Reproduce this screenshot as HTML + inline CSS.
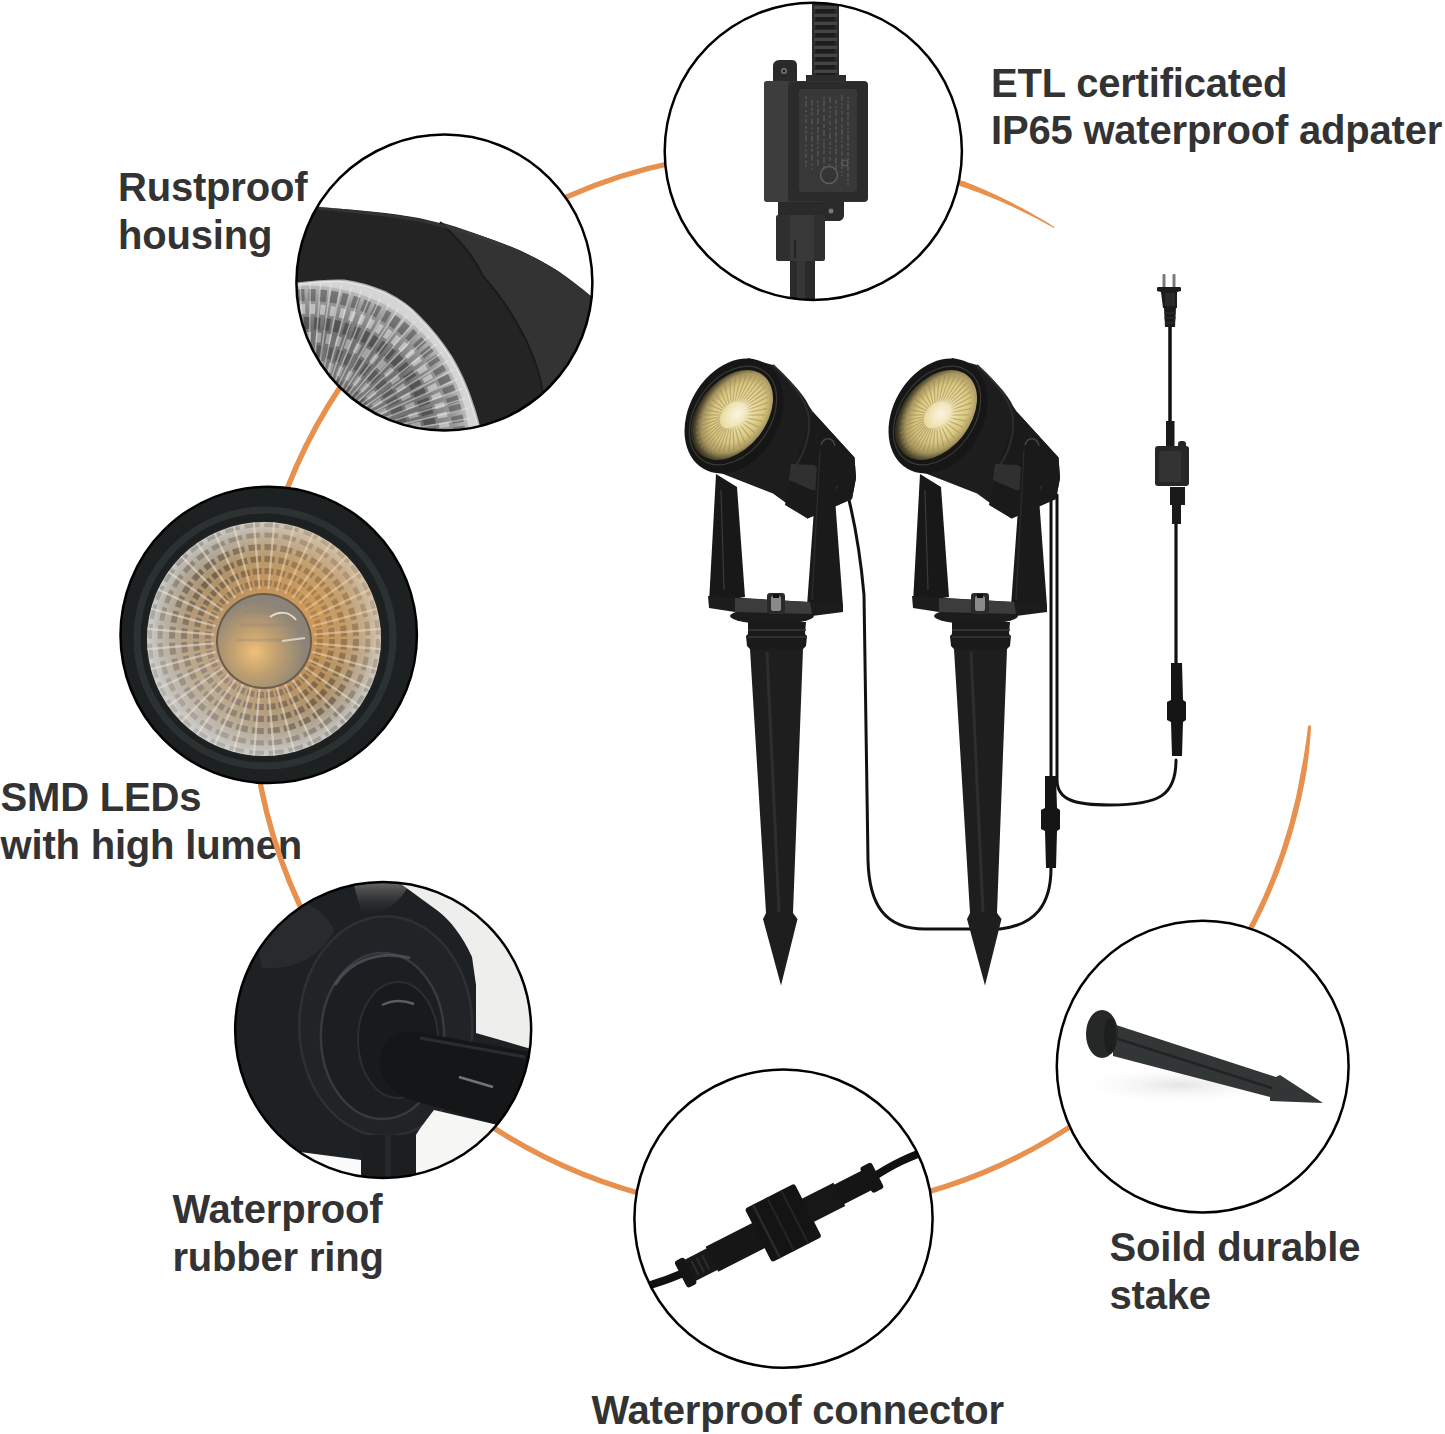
<!DOCTYPE html>
<html><head><meta charset="utf-8">
<style>
html,body{margin:0;padding:0;background:#fff;width:1445px;height:1434px;overflow:hidden}
svg{display:block}
text{font-family:"Liberation Sans",sans-serif;font-weight:bold;font-size:40px;fill:#333;letter-spacing:-0.2px}
</style></head><body>
<svg width="1445" height="1434" viewBox="0 0 1445 1434">
<defs>
<clipPath id="c1"><circle cx="813.3" cy="151.3" r="148.6"/></clipPath>
<clipPath id="c2"><circle cx="444.4" cy="282.6" r="148"/></clipPath>
<clipPath id="c3"><circle cx="268.7" cy="634.9" r="148.2"/></clipPath>
<clipPath id="c4"><circle cx="383.15" cy="1030" r="148"/></clipPath>
<clipPath id="c5"><circle cx="783.5" cy="1218.6" r="149.1"/></clipPath>
<clipPath id="c6"><circle cx="1202.7" cy="1066.6" r="145.9"/></clipPath>
</defs>
<rect width="1445" height="1434" fill="#fff"/>
<!-- TEXT -->
<g id="labels">
<text x="991" y="96.7">ETL certificated</text>
<text x="991" y="143.8">IP65 waterproof adpater</text>
<text x="118" y="201.1">Rustproof</text>
<text x="118" y="248.6">housing</text>
<text x="0.6" y="811">SMD LEDs</text>
<text x="0.6" y="858.8">with high lumen</text>
<text x="172.5" y="1223.3">Waterproof</text>
<text x="172.5" y="1270.7">rubber ring</text>
<text x="1109.5" y="1261.2">Soild durable</text>
<text x="1109.5" y="1308.6">stake</text>
<text x="591.5" y="1423.6">Waterproof connector</text>
</g>
<!-- ARC -->
<g id="arc" fill="#E8904E"><path d="M1304.59,766.65 A530.38,530.38 0 1 1 964.06,184.35" fill="none" stroke="#E8904E" stroke-width="5.4"/><path d="M1311.07,727.09 L1310.85,730.60 L1310.61,734.10 L1310.35,737.60 L1310.06,741.11 L1309.75,744.61 L1309.42,748.11 L1309.06,751.60 L1308.68,755.10 L1308.28,758.59 L1307.85,762.08 L1307.41,765.57 L1306.93,769.06 L1301.61,768.18 L1302.25,764.76 L1302.88,761.33 L1303.48,757.90 L1304.06,754.46 L1304.62,751.02 L1305.15,747.57 L1305.66,744.12 L1306.15,740.67 L1306.62,737.21 L1307.06,733.75 L1307.48,730.29 L1307.88,726.82 Z"/><path d="M963.17,180.93 L966.35,182.18 L969.53,183.45 L972.69,184.74 L975.85,186.05 L978.99,187.38 L982.13,188.74 L985.26,190.11 L988.38,191.50 L991.49,192.91 L994.59,194.34 L997.69,195.78 L1000.77,197.25 L1003.84,198.74 L1006.90,200.25 L1009.95,201.78 L1012.99,203.32 L1016.02,204.89 L1019.04,206.47 L1022.05,208.08 L1025.05,209.70 L1028.04,211.34 L1031.02,213.01 L1033.98,214.69 L1036.94,216.38 L1039.88,218.10 L1042.81,219.84 L1045.73,221.59 L1048.64,223.36 L1051.54,225.16 L1054.42,226.96 L1053.80,227.99 L1050.85,226.32 L1047.88,224.67 L1044.90,223.03 L1041.92,221.41 L1038.92,219.82 L1035.92,218.24 L1032.90,216.68 L1029.88,215.15 L1026.84,213.63 L1023.80,212.13 L1020.75,210.65 L1017.68,209.19 L1014.61,207.75 L1011.53,206.34 L1008.45,204.94 L1005.35,203.56 L1002.25,202.20 L999.13,200.86 L996.01,199.54 L992.88,198.24 L989.75,196.97 L986.60,195.71 L983.45,194.47 L980.29,193.25 L977.12,192.06 L973.95,190.88 L970.77,189.73 L967.58,188.59 L964.39,187.48 L961.19,186.38 Z"/><circle cx="1309.47" cy="726.96" r="1.6"/></g>
<!-- PRODUCT -->
<g id="product">
<defs>
<radialGradient id="lensG" cx="0.55" cy="0.45" r="0.55">
<stop offset="0" stop-color="#fff8d8"/>
<stop offset="0.3" stop-color="#f0e2a6"/>
<stop offset="0.6" stop-color="#d8c680"/>
<stop offset="0.8" stop-color="#a89660"/>
<stop offset="0.92" stop-color="#5e5638"/>
<stop offset="1" stop-color="#34301f"/>
</radialGradient>
<g id="spot">
<!-- cylinder body -->
<path d="M718,472 L748,358 L773,365 C790,380 803,393 809,406 L813,412 L854.5,457.6 L856,478 L852,499 L807.5,518.5 L773,493.6 Z" fill="#1d1d1d"/>
<!-- lower body band -->
<path d="M813,412 L854.5,457.6 L856,478 L852,499 L807.5,518.5 L785,505 L792,468 C800,450 808,430 813,412 Z" fill="#1a1a1a"/>
<path d="M773,365 C795,385 812,405 809,430 C806,450 800,462 791,470" fill="none" stroke="#2e2e2e" stroke-width="1.8"/>
<path d="M791,464 L814,465 L838,487 L834,494 L812,490 L789,480 Z" fill="#353535" opacity="0.85"/>
<!-- bezel -->
<ellipse cx="734" cy="416" rx="45" ry="61" transform="rotate(30 734 416)" fill="#161616"/>
<ellipse cx="733" cy="415.5" rx="37.5" ry="54" transform="rotate(35 733 415.5)" fill="none" stroke="#3a3a34" stroke-width="1.2"/>
<ellipse cx="732" cy="415" rx="34" ry="50.5" transform="rotate(38 732 415)" fill="url(#lensG)"/>
<g transform="rotate(38 732 415)"><path d="M742.0,415.0 L761.0,415.0 M741.9,417.3 L760.6,422.0 M741.5,419.6 L759.6,428.9 M740.9,421.8 L757.8,435.4 M740.1,423.8 L755.5,441.5 M739.1,425.6 L752.5,446.8 M737.9,427.1 L749.0,451.4 M736.5,428.4 L745.2,455.1 M735.1,429.3 L741.0,457.8 M733.6,429.8 L736.5,459.4 M732.0,430.0 L732.0,460.0 M730.4,429.8 L727.5,459.4 M728.9,429.3 L723.0,457.8 M727.5,428.4 L718.8,455.1 M726.1,427.1 L715.0,451.4 M724.9,425.6 L711.5,446.8 M723.9,423.8 L708.5,441.5 M723.1,421.8 L706.2,435.4 M722.5,419.6 L704.4,428.9 M722.1,417.3 L703.4,422.0 M722.0,415.0 L703.0,415.0 M722.1,412.7 L703.4,408.0 M722.5,410.4 L704.4,401.1 M723.1,408.2 L706.2,394.6 M723.9,406.2 L708.5,388.5 M724.9,404.4 L711.5,383.2 M726.1,402.9 L715.0,378.6 M727.5,401.6 L718.8,374.9 M728.9,400.7 L723.0,372.2 M730.4,400.2 L727.5,370.6 M732.0,400.0 L732.0,370.0 M733.6,400.2 L736.5,370.6 M735.1,400.7 L741.0,372.2 M736.5,401.6 L745.2,374.9 M737.9,402.9 L749.0,378.6 M739.1,404.4 L752.5,383.2 M740.1,406.2 L755.5,388.5 M740.9,408.2 L757.8,394.6 M741.5,410.4 L759.6,401.1 M741.9,412.7 L760.6,408.0 " stroke="#9c8a55" stroke-width="1.3" opacity="0.55"/></g>
<defs><radialGradient id="cenG"><stop offset="0" stop-color="#fbf5dc"/><stop offset="0.6" stop-color="#f2e6c0"/><stop offset="1" stop-color="#e6d6a0" stop-opacity="0"/></radialGradient></defs><ellipse cx="737" cy="414" rx="14" ry="19" transform="rotate(38 737 414)" fill="url(#cenG)"/>
<!-- bracket arms -->
<path d="M716,474 L737,487 L745,597 L709,603 Z" fill="#181818"/>
<path d="M721,490 L724,590" stroke="#3a3a3a" stroke-width="1.2"/>
<path d="M819,440 C821,432 835,430 838,442 L835.5,505 L843,606 L807,606 Z" fill="#1a1a1a"/><path d="M821,445 C823,437 833,436 835,446" fill="none" stroke="#444" stroke-width="1.5"/><path d="M820,450 L812,600" stroke="#2c2c2c" stroke-width="1.2"/>
<!-- plate -->
<path d="M708,596 L843,604 L843,612 L812,616 L735,612 L709,608 Z" fill="#1c1c1c"/><ellipse cx="772" cy="616" rx="42" ry="8" fill="#1c1c1c"/>
<path d="M735,598 L810,602 L812,614 L735,612 Z" fill="#3c3c3c"/>
<rect x="767" y="593" width="18" height="21" rx="3" fill="#2a2a2a"/>
<rect x="771" y="596" width="10" height="15" rx="2" fill="#8a8a8a"/>
<rect x="773" y="594" width="6" height="4" fill="#111"/>
<!-- stake -->
<path d="M748,622 L806,622 L805,634 L807,636 L806,646 L803,649 L750,649 L747,646 L746,636 L748,634 Z" fill="#1a1a1a"/>
<path d="M748,630 L806,630 M748,637 L806,637" stroke="#3a3a3a" stroke-width="1.5"/>
<path d="M750,649 L803,649 L793,913 L797.5,919 L781,985.5 L763,919 L766,913 Z" fill="#1e1e1e"/>
<path d="M767,652 L779,912" stroke="#2e2e2e" stroke-width="3"/>
</g>
</defs>
<!-- cables -->
<g fill="none" stroke="#111" stroke-linecap="round">
<path d="M847,492 C853,515 860,550 864,595 L868,860 C869,905 885,929 925,929 L1000,929 C1035,925 1051,905 1051,868" stroke-width="3"/>
<path d="M1051,495 L1051,776" stroke-width="3"/>
<path d="M1057,495 L1057,780 C1057,800 1075,805 1110,805 C1160,805 1176,795 1176,760" stroke-width="3"/>
<path d="M1176,663 L1176,523" stroke-width="3.2"/>
<path d="M1170,327 L1170,421" stroke-width="3.5"/>
</g>
<use href="#spot"/>
<use href="#spot" transform="translate(204,0)"/>
<!-- connector on spot2 cable -->
<path d="M1045,776 L1056,776 L1057,808 L1060,810 L1060,829 L1057,831 L1056,868 L1046,868 L1045,831 L1041,829 L1041,810 L1045,808 Z" fill="#151515"/>
<!-- right inline connector -->
<path d="M1171,663 L1182,663 L1183,700 L1186,702 L1186,720 L1183,722 L1182,756 L1172,756 L1171,722 L1167,720 L1167,702 L1171,700 Z" fill="#151515"/>
<!-- plug assembly -->
<rect x="1162.5" y="274" width="3" height="14" rx="1" fill="#7a7a7a"/>
<rect x="1172.5" y="274" width="3" height="14" rx="1" fill="#7a7a7a"/>
<path d="M1157,288 C1157,287 1158,287 1159,287 L1180,287 C1181,287 1181,288 1181,289 L1181,291 L1177,292 L1177,308 L1163,308 L1161,292 L1157,291 Z" fill="#1c1c1c"/>
<rect x="1165" y="293" width="10" height="13" fill="#2a2a2a"/>
<path d="M1164,308 L1176,308 L1175,327 L1165,327 Z" fill="#1a1a1a"/>
<path d="M1164,313 L1176,313 M1164,318 L1176,318 M1165,323 L1175,323" stroke="#333" stroke-width="1"/>
<rect x="1166" y="421" width="8.5" height="26" fill="#1a1a1a"/>
<rect x="1155" y="446" width="34" height="40" rx="3" fill="#262626"/>
<rect x="1159" y="451" width="22" height="31" rx="2" fill="#333"/>
<rect x="1178" y="441" width="8" height="8" rx="3" fill="#262626"/>
<rect x="1170" y="487" width="15" height="18" fill="#1a1a1a"/>
<rect x="1172" y="505" width="9" height="19" fill="#1a1a1a"/>
</g>

<!-- CIRCLES -->
<g id="circ1"><circle cx="813.3" cy="151.3" r="148.6" fill="#fff"/><g clip-path="url(#c1)">
<path d="M812,-5 L839,-5 L839,78 L812,78 Z" fill="#2b2b2b"/>
<g fill="#444"><rect x="814" y="6" width="23" height="3"/><rect x="814" y="14" width="23" height="3"/><rect x="814" y="22" width="23" height="3"/><rect x="814" y="30" width="23" height="3"/><rect x="814" y="38" width="23" height="3"/><rect x="814" y="46" width="23" height="3"/><rect x="814" y="54" width="23" height="3"/><rect x="814" y="62" width="23" height="3"/><rect x="814" y="70" width="23" height="3"/></g>
<g fill="#1c1c1c"><rect x="816" y="9" width="19" height="4"/><rect x="816" y="17" width="19" height="4"/><rect x="816" y="25" width="19" height="4"/><rect x="816" y="33" width="19" height="4"/><rect x="816" y="41" width="19" height="4"/><rect x="816" y="49" width="19" height="4"/><rect x="816" y="57" width="19" height="4"/><rect x="816" y="65" width="19" height="4"/><rect x="816" y="73" width="19" height="4"/></g>
<path d="M773,66 C773,61 777,60 781,60 L792,60 C796,60 797,63 797,66 L797,82 L773,82 Z" fill="#2a2a2a"/>
<circle cx="784" cy="71" r="3" fill="#777"/>
<circle cx="784" cy="71" r="1.5" fill="#222"/>
<rect x="806" y="75" width="40" height="8" fill="#2c2c2c"/>
<rect x="764" y="81" width="104" height="121" rx="4" fill="#333"/>
<rect x="764" y="81" width="25" height="121" rx="3" fill="#3d3d3d"/>
<rect x="788" y="82" width="80" height="119" rx="4" fill="#2b2b2b"/>
<rect x="799" y="89" width="58" height="103" rx="3" fill="#383838"/>
<g stroke="#505050" stroke-width="1.8"><path d="M806,96 L806,167" stroke-dasharray="3 2 6 3 2 3 2 2 4 3 3 1.5"/><path d="M812,100 L812,170" stroke-dasharray="6 2 3 1.5 3 3 6 3 2 3 2 1.5"/><path d="M818,101 L818,167" stroke-dasharray="2 2 2 2 6 3 6 3 6 2 6 1.5"/><path d="M824,97 L824,182" stroke-dasharray="2 1.5 6 1.5 4 3 6 3 4 2 6 3"/><path d="M830,97 L830,168" stroke-dasharray="6 3 3 2 2 2 3 3 4 3 2 3"/><path d="M836,100 L836,179" stroke-dasharray="4 2 2 1.5 6 3 6 1.5 4 1.5 6 1.5"/><path d="M842,95 L842,176" stroke-dasharray="6 2 2 1.5 2 2 4 3 4 3 3 1.5"/><path d="M848,97 L848,185" stroke-dasharray="2 1.5 2 1.5 6 2 4 1.5 2 2 4 2"/></g>
<circle cx="829" cy="175" r="8.5" fill="#353535" stroke="#5e5e5e" stroke-width="1.5"/><circle cx="845" cy="163" r="3" fill="none" stroke="#5e5e5e" stroke-width="1.2"/>
<path d="M823,201 L844,201 L844,215 C844,219 841,221 838,221 L823,221 Z" fill="#2a2a2a"/>
<circle cx="831" cy="211" r="2.5" fill="#777"/>
<rect x="778" y="202" width="45" height="14" fill="#2a2a2a"/>
<rect x="776" y="215" width="49" height="46" rx="2" fill="#2f2f2f"/>
<rect x="790" y="215" width="24" height="46" fill="#383838"/>
<path d="M795,240 L795,258" stroke="#222" stroke-width="2"/>
<rect x="790" y="261" width="25" height="45" fill="#2a2a2a"/>
<rect x="797" y="261" width="8" height="45" fill="#363636"/>
</g><circle cx="813.3" cy="151.3" r="148.6" fill="none" stroke="#000" stroke-width="2.5"/></g>
<g id="circ2"><circle cx="444.4" cy="282.6" r="148" fill="#fff"/><g clip-path="url(#c2)">
<defs><radialGradient id="hsG" cx="308" cy="447" r="170.5" gradientUnits="userSpaceOnUse">
<stop offset="0" stop-color="#b8b8b8"/><stop offset="0.3" stop-color="#7c7c7c"/><stop offset="0.7" stop-color="#707070"/><stop offset="0.88" stop-color="#9c9c9c"/><stop offset="1" stop-color="#d4d4d4"/></radialGradient>
<clipPath id="lensclip"><path d="M280,286 C300,284 320,280 344,281 C360,283 372,287 386,293 C400,300 410,307 419,317 C432,330 442,343 451,357 C460,372 467,388 472,404 C475,412 477,420 479,428 L481,440 L280,440 Z"/></clipPath></defs>
<path d="M280,204 L318,207 C360,210 390,213 419,218 C450,225 478,234 504,244 C525,252 542,261 558,271 C570,279 581,288 592,297 L605,305 L605,440 L280,440 Z" fill="#242424"/>
<path d="M440,222 C460,240 475,258 483,276 C500,295 515,318 526,340 C535,360 541,377 543,394 C546,410 547,422 548,440 L605,440 L605,305 L592,297 C581,288 570,279 558,271 C542,261 525,252 504,244 C482,236 461,228 440,222 Z" fill="#333"/>
<path d="M440,222 C460,240 475,258 483,276 C500,295 515,318 526,340 C535,360 541,377 543,394 C546,410 547,422 548,440" fill="none" stroke="#1b1b1b" stroke-width="2"/>
<path d="M318,208 C360,212 390,215 419,220 C450,227 478,236 504,246" fill="none" stroke="#3a3a3a" stroke-width="3" opacity="0.7"/>
<g clip-path="url(#lensclip)">
<rect x="280" y="270" width="210" height="175" fill="url(#hsG)"/>
<circle cx="308" cy="447" r="165.5" fill="none" stroke="#d8d8d8" stroke-width="8" opacity="0.8"/><circle cx="308" cy="447" r="152" fill="none" stroke="#4a4a4a" stroke-width="12" opacity="0.55" stroke-dasharray="7 4" transform="rotate(1064 308 447)"/><circle cx="308" cy="447" r="138" fill="none" stroke="#e0e0e0" stroke-width="10" opacity="0.6" stroke-dasharray="5 5" transform="rotate(966 308 447)"/><circle cx="308" cy="447" r="124" fill="none" stroke="#3e3e3e" stroke-width="12" opacity="0.6" stroke-dasharray="6 4" transform="rotate(868 308 447)"/><circle cx="308" cy="447" r="110" fill="none" stroke="#d0d0d0" stroke-width="10" opacity="0.55" stroke-dasharray="5 5" transform="rotate(770 308 447)"/><circle cx="308" cy="447" r="96" fill="none" stroke="#444" stroke-width="12" opacity="0.55" stroke-dasharray="6 4" transform="rotate(672 308 447)"/><circle cx="308" cy="447" r="82" fill="none" stroke="#c8c8c8" stroke-width="10" opacity="0.5" stroke-dasharray="5 5" transform="rotate(574 308 447)"/><circle cx="308" cy="447" r="68" fill="none" stroke="#484848" stroke-width="12" opacity="0.5" stroke-dasharray="6 4" transform="rotate(476 308 447)"/><path d="M297.6,387.9 L279.3,284.5 M301.3,387.4 L289.6,283.0 M305.1,387.1 L299.9,282.2 M308.8,387.0 L310.3,282.0 M312.6,387.2 L320.7,282.5 M316.4,387.6 L331.0,283.6 M320.1,388.2 L341.2,285.4 M323.7,389.1 L351.3,287.8 M327.3,390.2 L361.2,290.8 M330.9,391.5 L370.9,294.4 M334.3,393.1 L380.3,298.7 M337.6,394.8 L389.5,303.5 M340.9,396.8 L398.3,308.9 M343.9,399.0 L406.8,314.9 M346.9,401.3 L414.9,321.3 M349.7,403.8 L422.6,328.3 M352.3,406.5 L429.8,335.7 M354.8,409.4 L436.6,343.6 M357.0,412.4 L442.8,351.9 M359.1,415.6 L448.5,360.5 M361.0,418.8 L453.7,369.5 M362.6,422.2 L458.3,378.8 M364.1,425.7 L462.2,388.4 M365.3,429.3 L465.6,398.2 M366.3,432.9 L468.4,408.2 M367.1,436.6 L470.5,418.3 " stroke="#f0f0f0" stroke-width="1.6" opacity="0.45"/>
</g>
<path d="M280,286 C300,284 320,280 344,281 C360,283 372,287 386,293 C400,300 410,307 419,317 C432,330 442,343 451,357 C460,372 467,388 472,404 C475,412 477,420 479,428 L481,440" fill="none" stroke="#e8e8e8" stroke-width="3" opacity="0.7"/>
</g><circle cx="444.4" cy="282.6" r="148" fill="none" stroke="#000" stroke-width="2.5"/></g>
<g id="circ3"><circle cx="268.7" cy="634.9" r="148.2" fill="#fff"/><g clip-path="url(#c3)">
<defs><radialGradient id="ledG" cx="0.5" cy="0.5" r="0.5">
<stop offset="0" stop-color="#a89478"/><stop offset="0.45" stop-color="#b08858"/><stop offset="0.7" stop-color="#a8906c"/><stop offset="0.9" stop-color="#b4aea4"/><stop offset="1" stop-color="#cacac6"/></radialGradient>
<radialGradient id="ledC" cx="0.4" cy="0.62" r="0.55">
<stop offset="0" stop-color="#f0c078"/><stop offset="0.45" stop-color="#c0a070"/><stop offset="1" stop-color="#8c8478"/></radialGradient>
<linearGradient id="ledW" x1="0" y1="1" x2="1" y2="0"><stop offset="0" stop-color="#ffffff" stop-opacity="0.18"/><stop offset="0.5" stop-color="#ffffff" stop-opacity="0"/><stop offset="1" stop-color="#f0b060" stop-opacity="0.25"/></linearGradient></defs>
<rect x="110" y="480" width="320" height="320" fill="#1e2121"/>
<circle cx="265" cy="638" r="128" fill="none" stroke="#2c3232" stroke-width="7"/>
<circle cx="264" cy="639" r="119" fill="#202424"/>
<circle cx="264" cy="639" r="117" fill="url(#ledG)"/>
<circle cx="264" cy="639" r="56" fill="none" stroke="#3a2c1e" stroke-width="6" opacity="0.45" stroke-dasharray="7.33 2.44"/><circle cx="264" cy="639" r="68" fill="none" stroke="#3a2c1e" stroke-width="6" opacity="0.5" stroke-dasharray="8.90 2.97"/><circle cx="264" cy="639" r="80" fill="none" stroke="#3a2c1e" stroke-width="6" opacity="0.5" stroke-dasharray="10.47 3.49"/><circle cx="264" cy="639" r="92" fill="none" stroke="#3a2c1e" stroke-width="6" opacity="0.45" stroke-dasharray="12.04 4.01"/><circle cx="264" cy="639" r="104" fill="none" stroke="#3a2c1e" stroke-width="5" opacity="0.3" stroke-dasharray="13.61 4.54"/><circle cx="264" cy="639" r="114" fill="none" stroke="#3a2c1e" stroke-width="4" opacity="0.25" stroke-dasharray="14.92 4.97"/><path d="M313.8,643.4 L380.6,649.2 M312.3,651.9 L377.0,669.3 M309.3,660.1 L370.0,688.4 M305.0,667.7 L359.8,706.1 M299.4,674.4 L346.7,721.7 M292.7,680.0 L331.1,734.8 M285.1,684.3 L313.4,745.0 M276.9,687.3 L294.3,752.0 M268.4,688.8 L274.2,755.6 M259.6,688.8 L253.8,755.6 M251.1,687.3 L233.7,752.0 M242.9,684.3 L214.6,745.0 M235.3,680.0 L196.9,734.8 M228.6,674.4 L181.3,721.7 M223.0,667.7 L168.2,706.1 M218.7,660.1 L158.0,688.4 M215.7,651.9 L151.0,669.3 M214.2,643.4 L147.4,649.2 M214.2,634.6 L147.4,628.8 M215.7,626.1 L151.0,608.7 M218.7,617.9 L158.0,589.6 M223.0,610.3 L168.2,571.9 M228.6,603.6 L181.3,556.3 M235.3,598.0 L196.9,543.2 M242.9,593.7 L214.6,533.0 M251.1,590.7 L233.7,526.0 M259.6,589.2 L253.8,522.4 M268.4,589.2 L274.2,522.4 M276.9,590.7 L294.3,526.0 M285.1,593.7 L313.4,533.0 M292.7,598.0 L331.1,543.2 M299.4,603.6 L346.7,556.3 M305.0,610.3 L359.8,571.9 M309.3,617.9 L370.0,589.6 M312.3,626.1 L377.0,608.7 M313.8,634.6 L380.6,628.8 " stroke="#f2e8d8" stroke-width="2.2" opacity="0.55"/>
<circle cx="264" cy="639" r="117" fill="url(#ledW)"/>
<defs><radialGradient id="ledO" cx="0.68" cy="0.38" r="0.45"><stop offset="0" stop-color="#f0a850" stop-opacity="0.45"/><stop offset="1" stop-color="#f0a850" stop-opacity="0"/></radialGradient>
<radialGradient id="ledGr" cx="0.25" cy="0.7" r="0.5"><stop offset="0" stop-color="#d8d8d8" stop-opacity="0.35"/><stop offset="1" stop-color="#d8d8d8" stop-opacity="0"/></radialGradient></defs>
<circle cx="264" cy="639" r="117" fill="url(#ledO)"/>
<circle cx="264" cy="639" r="117" fill="url(#ledGr)"/>
<circle cx="264" cy="641" r="48" fill="#6a5c4c"/>
<circle cx="264" cy="641" r="46" fill="url(#ledC)"/>
<path d="M245,612 L290,612 M240,625 L295,625 M236,640 L300,640" stroke="#8a8070" stroke-width="3" opacity="0.3"/>
<path d="M270,617 C280,610 290,612 296,620" fill="none" stroke="#f4f0e8" stroke-width="2" opacity="0.8"/>
<path d="M282,641 L305,638" stroke="#f4f0e8" stroke-width="2" opacity="0.7"/>
</g><circle cx="268.7" cy="634.9" r="148.2" fill="none" stroke="#000" stroke-width="2.5"/></g>
<g id="circ4"><circle cx="383.15" cy="1030" r="148" fill="#fff"/><g clip-path="url(#c4)">
<defs><linearGradient id="hlG" x1="0" y1="0" x2="0" y2="1"><stop offset="0" stop-color="#8a8a8a" stop-opacity="0.85"/><stop offset="1" stop-color="#333" stop-opacity="0"/></linearGradient></defs>
<rect x="230" y="875" width="320" height="320" fill="#1e2123"/>
<path d="M250,905 C290,892 322,903 334,930 C322,955 298,970 262,968 Z" fill="#282b2d"/>
<path d="M352,878 L412,878 C402,902 385,915 362,915 Z" fill="url(#hlG)"/>
<ellipse cx="385.8" cy="1026.3" rx="86.5" ry="110" fill="#212426" stroke="#2e3133" stroke-width="2.5"/>
<ellipse cx="382.5" cy="1036" rx="61.6" ry="83" fill="#1c1f21" stroke="#383b3e" stroke-width="2.5"/>
<path d="M335,985 C350,960 380,950 410,958" fill="none" stroke="#50535a" stroke-width="3" opacity="0.8"/>
<ellipse cx="398" cy="1040" rx="40" ry="58" fill="#181a1c" stroke="#2c2f32" stroke-width="2"/>
<path d="M382,1005 C392,1000 404,1000 414,1004" fill="none" stroke="#5a5d60" stroke-width="2.5"/>
<path d="M401,870 L545,870 L545,1053 L476,1033 L476,985 L472,957 C462,935 450,920 438,911 L401,884 Z" fill="#eeeeec"/>
<path d="M434,1110 L500,1125.6 L545,1138 L545,1195 L416,1195 L416,1135 C420,1128 428,1118 434,1110 Z" fill="#f6f6f4"/>
<path d="M300,1152 L361,1160 L361,1195 L300,1195 Z" fill="#fafafa"/>
<path d="M416,1032 L529.4,1052 L545,1055 L545,1140 L500,1125.6 L409.8,1099.6 C388,1092 378,1072 380,1057 C383,1040 396,1030 416,1032 Z" fill="#141618"/>
<path d="M420,1038 L525,1057" stroke="#2a2d30" stroke-width="3"/>
<path d="M459,1077 L493,1087" stroke="#7a7e82" stroke-width="2.5" opacity="0.9"/>
<rect x="361" y="1135" width="55" height="60" fill="#1c1e20"/>
<rect x="385" y="1135" width="6" height="60" fill="#26292b"/>
</g><circle cx="383.15" cy="1030" r="148" fill="none" stroke="#000" stroke-width="2.5"/></g>
<g id="circ5"><circle cx="783.5" cy="1218.6" r="149.1" fill="#fff"/><g clip-path="url(#c5)"><path d="M620,1292 C640,1288 660,1284 690,1270" fill="none" stroke="#111" stroke-width="8"/><path d="M872,1178 C890,1166 910,1155 945,1145" fill="none" stroke="#111" stroke-width="8"/><g transform="translate(785,1222) rotate(-27)">

<rect x="-117" y="-15" width="11" height="30" rx="3" fill="#151515"/>
<rect x="-107" y="-12" width="26" height="24" fill="#181818"/>
<rect x="-82" y="-14" width="54" height="28" fill="#161616"/>
<rect x="-30" y="-30" width="56" height="60" rx="3" fill="#141414"/>
<rect x="-22" y="-30" width="2.5" height="60" fill="#2a2a2a"/><rect x="-6" y="-30" width="2" height="60" fill="#242424"/><rect x="10" y="-30" width="2" height="60" fill="#242424"/><rect x="-102" y="-8" width="2" height="16" fill="#2c2c2c"/><rect x="-96" y="-8" width="2" height="16" fill="#2c2c2c"/><rect x="-90" y="-8" width="2" height="16" fill="#2c2c2c"/>
<rect x="25" y="-13" width="36" height="26" fill="#171717"/>
<rect x="60" y="-11" width="33" height="22" fill="#151515"/>
<rect x="91" y="-14.5" width="13" height="29" rx="3" fill="#141414"/>

</g></g><circle cx="783.5" cy="1218.6" r="149.1" fill="none" stroke="#000" stroke-width="2.5"/></g>
<g id="circ6"><circle cx="1202.7" cy="1066.6" r="145.9" fill="#fff"/><g clip-path="url(#c6)">
<defs><radialGradient id="shG"><stop offset="0" stop-color="#e4e4e4"/><stop offset="1" stop-color="#fff" stop-opacity="0"/></radialGradient></defs><ellipse cx="1180" cy="1085" rx="110" ry="20" fill="url(#shG)"/>
<path d="M1113,1024 L1276,1077 L1280,1075 L1323,1103 L1270,1101 L1270,1097 L1113,1056 Z" fill="#333636"/>
<path d="M1115,1038 L1272,1088" stroke="#222" stroke-width="2.5"/>
<ellipse cx="1102" cy="1034" rx="16" ry="24" fill="#262828"/>
<ellipse cx="1110" cy="1036" rx="6" ry="18" fill="#1d1f1f"/>
</g><circle cx="1202.7" cy="1066.6" r="145.9" fill="none" stroke="#000" stroke-width="2.5"/></g>
</svg>
</body></html>
